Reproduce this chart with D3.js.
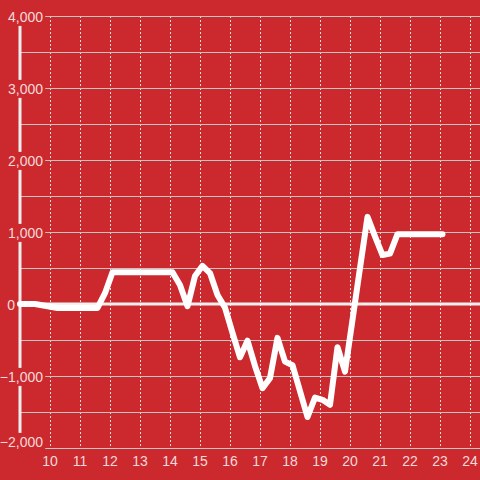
<!DOCTYPE html>
<html><head><meta charset="utf-8">
<script src="https://cdn.jsdelivr.net/npm/d3@7"></script>
<style>html,body{margin:0;padding:0;background:#cc292e;}svg{display:block;}</style>
</head><body>
<svg id="chart" width="480" height="480"></svg>
<script>
// data: x in hours (decimal), value
const hours = [9.0, 9.5, 10.25, 11.583, 11.833, 12.083, 14.083, 14.333, 14.583, 14.833, 15.083, 15.333, 15.583, 15.833, 16.083, 16.333, 16.583, 16.833, 17.083, 17.333, 17.583, 17.833, 18.083, 18.333, 18.583, 18.833, 19.083, 19.333, 19.583, 19.833, 20.083, 20.333, 20.583, 20.833, 21.083, 21.333, 21.583, 23.083];
const values = [0, 0, -55, -55, 150, 440, 440, 264, -30, 390, 530, 430, 125, -50, -400, -740, -510, -860, -1170, -1030, -470, -800, -850, -1210, -1570, -1300, -1330, -1400, -600, -940, -220, 500, 1210, 940, 680, 700, 970, 970];
const xTicks = [10, 11, 12, 13, 14, 15, 16, 17, 18, 19, 20, 21, 22, 23, 24];
const yLabelTicks = [-2000, -1000, 0, 1000, 2000, 3000, 4000];
const yGridTicks = [-2000, -1500, -1000, -500, 0, 500, 1000, 1500, 2000, 2500, 3000, 3500, 4000];

(function() {
const bg = "#cc292e";
const svg = d3.select("#chart");
const mLeft = 20, mRight = 480, mTop = 16, mBottom = 448;
const x = d3.scaleLinear().domain([9, 24.333]).range([mLeft, mRight]);
const y = d3.scaleLinear().domain([-2000, 4000]).range([mBottom, mTop]);
const font = "'Liberation Sans', Arial, sans-serif";

svg.append("rect").attr("width", 480).attr("height", 480).attr("fill", bg);

// vertical dotted grid
svg.append("g").selectAll("line").data(xTicks).join("line")
  .attr("x1", d => x(d)).attr("x2", d => x(d))
  .attr("y1", mTop).attr("y2", mBottom)
  .attr("stroke", "#e6dcdc").attr("stroke-width", 1)
  .attr("stroke-dasharray", "2,2")
  .attr("shape-rendering", "crispEdges");

// horizontal grid
svg.append("g").selectAll("line").data(yGridTicks.filter(d => d !== 0)).join("line")
  .attr("x1", mLeft).attr("x2", mRight)
  .attr("y1", d => Math.round(y(d)) + 0.5).attr("y2", d => Math.round(y(d)) + 0.5)
  .attr("stroke", "#c9c4c4").attr("stroke-width", 1);

// zero line
svg.append("line").attr("x1", mLeft).attr("x2", mRight)
  .attr("y1", y(0)).attr("y2", y(0))
  .attr("stroke", "#f6f0f0").attr("stroke-width", 3);

// y axis line
svg.append("line").attr("x1", mLeft).attr("x2", mLeft)
  .attr("y1", mTop).attr("y2", mBottom)
  .attr("stroke", "#f2eeee").attr("stroke-width", 3);

// y labels with background
const yl = svg.append("g").selectAll("g").data(yLabelTicks).join("g");
yl.append("text")
  .attr("x", d => d === 0 ? 15 : 43)
  .attr("y", d => Math.min(y(d) + 1, mBottom - 6))
  .attr("dy", "0.35em")
  .attr("text-anchor", "end")
  .attr("font-family", font).attr("font-size", 14)
  .attr("fill", "#f4d9da")
  .text(d => d3.format(",")(d));
yl.each(function() {
  const g = d3.select(this);
  const b = g.select("text").node().getBBox();
  g.insert("rect", "text").attr("x", b.x - 2).attr("y", b.y - 1)
    .attr("width", b.width + 4).attr("height", b.height + 2).attr("fill", bg);
});

// x labels
svg.append("g").selectAll("text").data(xTicks).join("text")
  .attr("x", d => x(d)).attr("y", 461).attr("dy", "0.35em")
  .attr("text-anchor", "middle")
  .attr("font-family", font).attr("font-size", 14)
  .attr("fill", "#f4d9da")
  .text(d => d);

// data line
const pts = hours.map((h, i) => [h, values[i]]);
svg.append("path").datum(pts)
  .attr("d", d3.line().x(d => x(d[0])).y(d => y(d[1])))
  .attr("fill", "none").attr("stroke", "#ffffff").attr("stroke-width", 6)
  .attr("stroke-linejoin", "round").attr("stroke-linecap", "round");
})();
</script>
</body></html>
